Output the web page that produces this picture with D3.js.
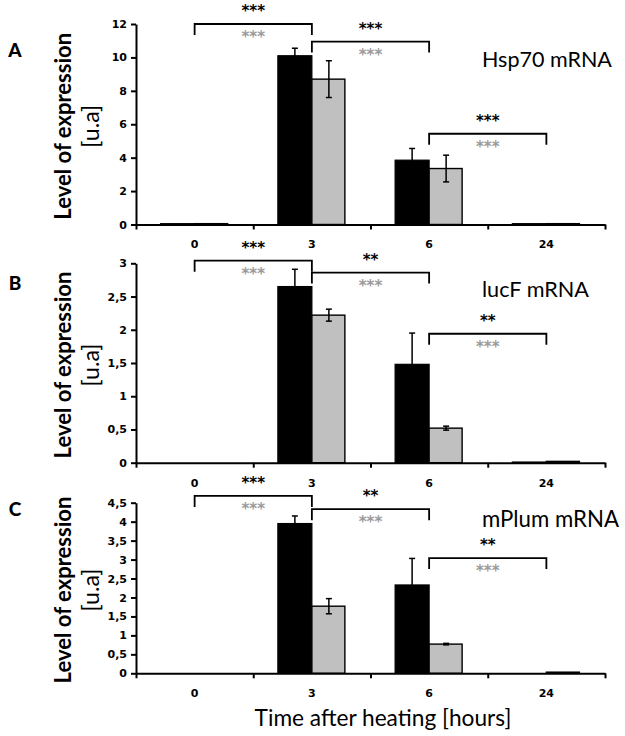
<!DOCTYPE html>
<meta charset="utf-8">
<script src="https://cdn.jsdelivr.net/npm/d3@7"></script>
<div id="chart"></div>
<style>
  body { margin: 0; background: #fff; }
  svg text { font-family: Lato, "Open Sans", sans-serif; }
  .tick text { font-family: "DejaVu Sans", sans-serif; font-weight: bold; font-size: 11px; fill: #000; }
  .stars { font-family: "DejaVu Sans", sans-serif; font-weight: bold; }
</style>
<script>
// time points (hours)
var times = ["0", "3", "6", "24"];

// Hsp70 mRNA
var hspBlack    = [0.05, 10.1, 3.85, 0.05];
var hspBlackErr = [0, 0.45, 0.7, 0];
var hspGrey     = [0.05, 8.7, 3.35, 0.05];
var hspGreyErr  = [0, 1.1, 0.8, 0];

// lucF mRNA
var lucBlack    = [0, 2.65, 1.48, 0.01];
var lucBlackErr = [0, 0.26, 0.47, 0];
var lucGrey     = [0, 2.22, 0.52, 0.02];
var lucGreyErr  = [0, 0.09, 0.03, 0];

// mPlum mRNA
var plumBlack    = [0, 3.95, 2.33, 0];
var plumBlackErr = [0, 0.2, 0.7, 0];
var plumGrey     = [0, 1.77, 0.77, 0.03];
var plumGreyErr  = [0, 0.2, 0.02, 0];

// y ticks
var hspTicks  = [0, 2, 4, 6, 8, 10, 12];
var lucTicks  = [0, 0.5, 1, 1.5, 2, 2.5, 3];
var plumTicks = [0, 0.5, 1, 1.5, 2, 2.5, 3, 3.5, 4, 4.5];

// significance brackets
var bracketFrom = ["0", "3", "6"];
var bracketTo   = ["3", "6", "24"];
var hspBracketLevel  = [12.0, 10.95, 5.43];
var lucBracketLevel  = [3.04, 2.86, 1.94];
var plumBracketLevel = [4.68, 4.33, 3.04];
var hspStarsBlack  = ["***", "***", "***"];
var lucStarsBlack  = ["***", "**", "**"];
var plumStarsBlack = ["***", "**", "**"];
var starsGrey      = ["***", "***", "***"];

var panels = [
  {letter: "A", title: "Hsp70 mRNA", black: hspBlack, blackErr: hspBlackErr, grey: hspGrey, greyErr: hspGreyErr,
   ticks: hspTicks, levels: hspBracketLevel, starsBlack: hspStarsBlack, top: 24, bottom: 224.5, titleY: 60, titleW: 130},
  {letter: "B", title: "lucF mRNA", black: lucBlack, blackErr: lucBlackErr, grey: lucGrey, greyErr: lucGreyErr,
   ticks: lucTicks, levels: lucBracketLevel, starsBlack: lucStarsBlack, top: 263.3, bottom: 462.7, titleY: 290, titleW: 107},
  {letter: "C", title: "mPlum mRNA", black: plumBlack, blackErr: plumBlackErr, grey: plumGrey, greyErr: plumGreyErr,
   ticks: plumTicks, levels: plumBracketLevel, starsBlack: plumStarsBlack, top: 502.7, bottom: 673.3, titleY: 520, titleW: 137}
];

var width = 625, height = 736;
var left = 136, right = 605;

var svg = d3.select("#chart").append("svg")
    .attr("width", width)
    .attr("height", height);

var x = d3.scaleBand().domain(times).range([left, right]).padding(0);
var xEdge = d3.scaleLinear().domain([0, times.length]).range([left, right]);
var barW = 34;

function fmt(d) { return String(d).replace(".", ","); }

// shrink/grow font so text spans target width
function fitText(sel, target) {
  var fs = parseFloat(sel.attr("font-size"));
  var w = sel.node().getComputedTextLength();
  sel.attr("font-size", fs * target / w);
}

panels.forEach(function(p) {
  var ymax = p.ticks[p.ticks.length - 1];
  var y = d3.scaleLinear().domain([0, ymax]).range([p.bottom, p.top]);
  var g = svg.append("g");

  // bars
  var rows = times.map(function(t, i) {
    return {t: t, b: p.black[i], be: p.blackErr[i], gr: p.grey[i], ge: p.greyErr[i]};
  });

  g.selectAll(".bb").data(rows).enter().append("rect")
      .attr("x", function(d) { return x(d.t) + x.bandwidth() / 2 - barW; })
      .attr("y", function(d) { return y(d.b); })
      .attr("width", barW)
      .attr("height", function(d) { return y(0) - y(d.b); })
      .attr("fill", "#000")
      .attr("stroke", "#000")
      .attr("stroke-width", 1.2);

  g.selectAll(".gb").data(rows).enter().append("rect")
      .attr("x", function(d) { return x(d.t) + x.bandwidth() / 2; })
      .attr("y", function(d) { return y(d.gr); })
      .attr("width", barW - 1)
      .attr("height", function(d) { return y(0) - y(d.gr); })
      .attr("fill", "#c0c0c0")
      .attr("stroke", "#000")
      .attr("stroke-width", 1.4);

  // error bars
  function errBars(key, ekey, cx) {
    var e = rows.filter(function(d) { return d[ekey] > 0; });
    var eg = g.selectAll(null).data(e).enter().append("g")
        .attr("stroke", "#000").attr("stroke-width", 1.5);
    eg.append("line")
        .attr("x1", function(d) { return cx(d); }).attr("x2", function(d) { return cx(d); })
        .attr("y1", function(d) { return y(d[key] - d[ekey]); })
        .attr("y2", function(d) { return y(d[key] + d[ekey]); });
    eg.append("line")
        .attr("x1", function(d) { return cx(d) - 3; }).attr("x2", function(d) { return cx(d) + 3; })
        .attr("y1", function(d) { return y(d[key] + d[ekey]); })
        .attr("y2", function(d) { return y(d[key] + d[ekey]); });
    eg.append("line")
        .attr("x1", function(d) { return cx(d) - 3; }).attr("x2", function(d) { return cx(d) + 3; })
        .attr("y1", function(d) { return y(d[key] - d[ekey]); })
        .attr("y2", function(d) { return y(d[key] - d[ekey]); });
  }
  errBars("b", "be", function(d) { return x(d.t) + x.bandwidth() / 2 - barW / 2; });
  errBars("gr", "ge", function(d) { return x(d.t) + x.bandwidth() / 2 + barW / 2; });

  // y axis
  var ya = g.append("g")
      .attr("transform", "translate(" + left + ",0)")
      .call(d3.axisLeft(y).tickValues(p.ticks).tickFormat(fmt).tickSize(5).tickSizeOuter(0).tickPadding(4));
  ya.select(".domain").attr("stroke-width", 2);
  ya.selectAll(".tick line").attr("stroke-width", 2);

  // x axis: ticks at group edges, labels at group centres
  var xa = g.append("g")
      .attr("transform", "translate(0," + p.bottom + ")")
      .call(d3.axisBottom(xEdge).ticks(times.length).tickFormat("").tickSize(5).tickSizeOuter(0));
  xa.select(".domain").attr("stroke-width", 2);
  xa.selectAll(".tick line").attr("stroke-width", 2);

  var xl = g.append("g")
      .attr("transform", "translate(0," + (p.bottom + 16) + ")")
      .call(d3.axisBottom(x).tickSize(0).tickPadding(0));
  xl.select(".domain").remove();

  // brackets
  var br = bracketFrom.map(function(f, i) {
    return {f: f, t: bracketTo[i], lv: p.levels[i], sb: p.starsBlack[i], sg: starsGrey[i]};
  });
  var cxm = function(t) { return x(t) + x.bandwidth() / 2; };
  g.selectAll(".br").data(br).enter().append("path")
      .attr("d", function(d) {
        var yy = y(d.lv);
        return "M" + cxm(d.f) + "," + (yy + 11) + "V" + yy + "H" + cxm(d.t) + "V" + (yy + 11);
      })
      .attr("fill", "none").attr("stroke", "#000").attr("stroke-width", 1.8);
  g.selectAll(".sb").data(br).enter().append("text")
      .attr("class", "stars")
      .attr("x", function(d) { return (cxm(d.f) + cxm(d.t)) / 2; })
      .attr("y", function(d) { return y(d.lv) - 8; })
      .attr("text-anchor", "middle")
      .attr("font-size", 15)
      .attr("letter-spacing", 0)
      .attr("fill", "#000")
      .text(function(d) { return d.sb; });
  g.selectAll(".sg").data(br).enter().append("text")
      .attr("class", "stars")
      .attr("x", function(d) { return (cxm(d.f) + cxm(d.t)) / 2; })
      .attr("y", function(d) { return y(d.lv) + 18; })
      .attr("text-anchor", "middle")
      .attr("font-size", 15)
      .attr("fill", "#9a9a9a")
      .text(function(d) { return d.sg; });

  // panel letter
  g.append("text")
      .attr("x", 15).attr("y", y.range()[1] + (p.letter == "A" ? 33 : p.letter == "B" ? 27 : 13))
      .attr("text-anchor", "middle")
      .attr("font-size", 19).attr("font-weight", 900)
      .text(p.letter);

  // y title
  var mid = (p.top + p.bottom) / 2 + 2;
  var yt = g.append("text")
      .attr("transform", "translate(71," + mid + ") rotate(-90)")
      .attr("text-anchor", "middle")
      .attr("font-size", 22).attr("font-weight", 700)
      .text("Level of expression");
  fitText(yt, 187);
  var yu = g.append("text")
      .attr("transform", "translate(99," + mid + ") rotate(-90)")
      .attr("text-anchor", "middle")
      .attr("font-size", 20)
      .text("[u.a]");
  fitText(yu, 43);

  // series title
  var tt = g.append("text")
      .attr("x", 482).attr("y", p.titleY + 7)
      .attr("font-size", 20)
      .text(p.title);
  fitText(tt, p.titleW);
});

// x title
var xt = svg.append("text")
    .attr("x", 383).attr("y", 726)
    .attr("text-anchor", "middle")
    .attr("font-size", 21)
    .text("Time after heating [hours]");
fitText(xt, 257);
</script>
